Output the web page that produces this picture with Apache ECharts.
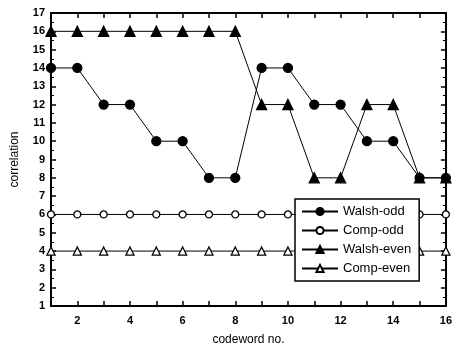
<!DOCTYPE html>
<html><head><meta charset="utf-8">
<script src="https://cdn.jsdelivr.net/npm/echarts@6/dist/echarts.min.js"></script>
<style>html,body{margin:0;padding:0;background:#fff}#c{width:455px;height:354px}</style>
</head><body><div id="c"></div>
<script>
var codewords = [1,2,3,4,5,6,7,8,9,10,11,12,13,14,15,16];
var walshOdd  = [14,14,12,12,10,10,8,8,14,14,12,12,10,10,8,8];
var compOdd   = [6,6,6,6,6,6,6,6,6,6,6,6,6,6,6,6];
var walshEven = [16,16,16,16,16,16,16,16,12,12,8,8,12,12,8,8];
var compEven  = [4,4,4,4,4,4,4,4,4,4,4,4,4,4,4,4];
var seriesNames = ['Walsh-odd','Comp-odd','Walsh-even','Comp-even'];

function pairs(v){ return codewords.map(function(x,i){return [x,v[i]];}); }
var font = 'Arial, "Liberation Sans", Helvetica, sans-serif';
var axisCommon = {
  axisLine:{lineStyle:{color:'#000',width:2}},
  axisTick:{inside:true,length:5,lineStyle:{color:'#000',width:1.5}},
  minorTick:{show:true,splitNumber:2,length:3,lineStyle:{color:'#000',width:1}},
  splitLine:{show:false}
};
function mk(name,data,symbol,size,filled){
  return {name:name,type:'line',data:pairs(data),symbol:symbol,symbolSize:size,
    lineStyle:{color:'#000',width:1},
    itemStyle:{color:filled?'#000':'#fff',borderColor:'#000',borderWidth:1.3},
    showAllSymbol:true,animation:false};
}
var chart = echarts.init(document.getElementById('c'));
chart.setOption({
  animation:false,
  grid:{left:51,right:7,top:13,bottom:48},
  xAxis:[
    Object.assign({type:'value',min:1,max:16,interval:1,position:'bottom',
      name:'codeword no.',nameLocation:'middle',nameGap:28,
      nameTextStyle:{fontFamily:font,fontSize:12,color:'#000'},
      axisLabel:{fontFamily:font,fontSize:11,fontWeight:'bold',color:'#000',margin:9,
        formatter:function(v){return v%2===0?String(v):'';}}},axisCommon,
      {minorTick:{show:false}}),
    Object.assign({type:'value',min:1,max:16,interval:1,position:'top',
      axisLabel:{show:false}},axisCommon,{minorTick:{show:false}})
  ],
  yAxis:[
    Object.assign({type:'value',min:1,max:17,interval:1,position:'left',
      name:'correlation',nameLocation:'middle',nameGap:30,
      nameTextStyle:{fontFamily:font,fontSize:12,color:'#000'},
      axisLabel:{fontFamily:font,fontSize:11,fontWeight:'bold',color:'#000',margin:6}},axisCommon),
    Object.assign({type:'value',min:1,max:17,interval:1,position:'right',
      axisLabel:{show:false}},axisCommon)
  ],
  legend:{
    data:seriesNames, orient:'vertical', left:295, top:199,
    width:122, padding:[6,8,6,6], itemGap:6, itemWidth:36, itemHeight:9,
    borderColor:'#000', borderWidth:1.5, backgroundColor:'#fff',
    textStyle:{fontFamily:font,fontSize:13,color:'#000'}
  },
  series:[
    mk(seriesNames[0],walshOdd,'circle',9,true),
    mk(seriesNames[1],compOdd,'circle',7,false),
    mk(seriesNames[2],walshEven,'triangle',10,true),
    mk(seriesNames[3],compEven,'triangle',8,false)
  ]
});
</script></body></html>
